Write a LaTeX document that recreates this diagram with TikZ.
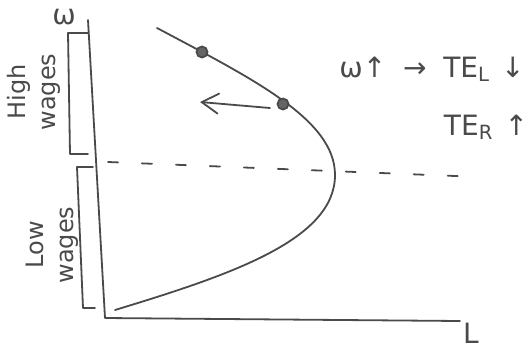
\documentclass[tikz,border=0pt]{standalone}
\usepackage{fontspec}
\setmainfont{DejaVu Sans}
\usetikzlibrary{positioning,arrows.meta}
\definecolor{pencil}{HTML}{4A4A4A}

\begin{document}
\begin{tikzpicture}[x=0.5pt,y=-0.5pt,>={Straight Barb[length=3mm,width=3.6mm]},
  pen/.style={draw=pencil,line width=0.9pt,line cap=round,line join=round},
  lbl/.style={text=pencil,inner sep=0pt,font=\fontsize{14}{15}\selectfont},
  side/.style={lbl,align=center,rotate=90,font=\fontsize{12}{15}\selectfont},
  pt/.style={circle,draw=pencil,fill=pencil!85,line width=0.9pt,minimum size=5.5pt,inner sep=0pt}]
\useasboundingbox (0,0) rectangle (530,349);
% axes
\coordinate (top) at (88,20);
\coordinate (origin) at (105,318);
\coordinate (right) at (460,321);
\draw[pen] (top) -- (origin) -- (right);
\node[lbl] (w) at (64,17) {ω};
\node[lbl] (L) at (471,333) {L};
% brackets
\draw[pen] (88,33) -- (68,33) -- (70,154) -- (88,154);
\draw[pen] (93,167) -- (77,167) -- (83,308) -- (95,308);
\node[side] (high) at (34,92) {High\\wages};
\node[side] (low) at (52,245) {Low\\wages};
% dashed line
\draw[pen,dash pattern=on 5pt off 12pt] (108,162) -- (480,177);
% curve
\draw[pen] (157,28) .. controls (255,80) and (335,120) .. (335,175)
  .. controls (335,240) and (230,275) .. (115,310);
\node[pt] (p1) at (202,52) {};
\node[pt] (p2) at (283,104) {};
\coordinate (a0) at (270,108);
\coordinate (a1) at (200,102);
\draw[pen,->] (a0) -- (a1);
% effects
\node[lbl] (e1) at (432,69) {ω↑\hspace{0.6em}→\hspace{0.6em}TE\textsubscript{L}\hspace{0.4em}↓};
\node[lbl] (e2) at (486,127) {TE\textsubscript{R}\hspace{0.4em}↑};
\end{tikzpicture}
\end{document}
